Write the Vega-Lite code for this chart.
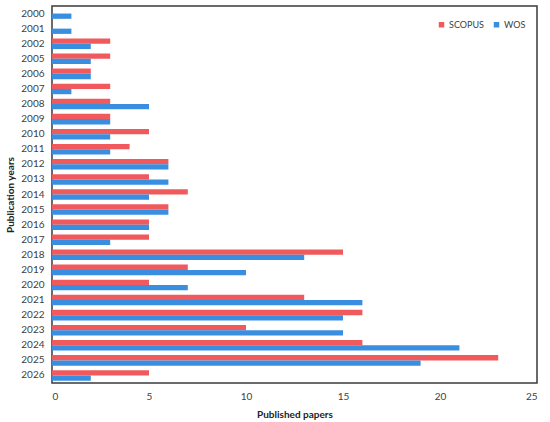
{
  "$schema": "https://vega.github.io/schema/vega-lite/v6.json",
  "autosize": {"type": "none"},
  "padding": {"left": 52, "top": 6, "right": 13, "bottom": 39},
  "width": 485,
  "height": 377,
  "data": {
    "values": [
      {"year": "2000", "source": "SCOPUS", "papers": 0}, {"year": "2000", "source": "WOS", "papers": 1},
      {"year": "2001", "source": "SCOPUS", "papers": 0}, {"year": "2001", "source": "WOS", "papers": 1},
      {"year": "2002", "source": "SCOPUS", "papers": 3}, {"year": "2002", "source": "WOS", "papers": 2},
      {"year": "2005", "source": "SCOPUS", "papers": 3}, {"year": "2005", "source": "WOS", "papers": 2},
      {"year": "2006", "source": "SCOPUS", "papers": 2}, {"year": "2006", "source": "WOS", "papers": 2},
      {"year": "2007", "source": "SCOPUS", "papers": 3}, {"year": "2007", "source": "WOS", "papers": 1},
      {"year": "2008", "source": "SCOPUS", "papers": 3}, {"year": "2008", "source": "WOS", "papers": 5},
      {"year": "2009", "source": "SCOPUS", "papers": 3}, {"year": "2009", "source": "WOS", "papers": 3},
      {"year": "2010", "source": "SCOPUS", "papers": 5}, {"year": "2010", "source": "WOS", "papers": 3},
      {"year": "2011", "source": "SCOPUS", "papers": 4}, {"year": "2011", "source": "WOS", "papers": 3},
      {"year": "2012", "source": "SCOPUS", "papers": 6}, {"year": "2012", "source": "WOS", "papers": 6},
      {"year": "2013", "source": "SCOPUS", "papers": 5}, {"year": "2013", "source": "WOS", "papers": 6},
      {"year": "2014", "source": "SCOPUS", "papers": 7}, {"year": "2014", "source": "WOS", "papers": 5},
      {"year": "2015", "source": "SCOPUS", "papers": 6}, {"year": "2015", "source": "WOS", "papers": 6},
      {"year": "2016", "source": "SCOPUS", "papers": 5}, {"year": "2016", "source": "WOS", "papers": 5},
      {"year": "2017", "source": "SCOPUS", "papers": 5}, {"year": "2017", "source": "WOS", "papers": 3},
      {"year": "2018", "source": "SCOPUS", "papers": 15}, {"year": "2018", "source": "WOS", "papers": 13},
      {"year": "2019", "source": "SCOPUS", "papers": 7}, {"year": "2019", "source": "WOS", "papers": 10},
      {"year": "2020", "source": "SCOPUS", "papers": 5}, {"year": "2020", "source": "WOS", "papers": 7},
      {"year": "2021", "source": "SCOPUS", "papers": 13}, {"year": "2021", "source": "WOS", "papers": 16},
      {"year": "2022", "source": "SCOPUS", "papers": 16}, {"year": "2022", "source": "WOS", "papers": 15},
      {"year": "2023", "source": "SCOPUS", "papers": 10}, {"year": "2023", "source": "WOS", "papers": 15},
      {"year": "2024", "source": "SCOPUS", "papers": 16}, {"year": "2024", "source": "WOS", "papers": 21},
      {"year": "2025", "source": "SCOPUS", "papers": 23}, {"year": "2025", "source": "WOS", "papers": 19},
      {"year": "2026", "source": "SCOPUS", "papers": 5}, {"year": "2026", "source": "WOS", "papers": 2}
    ]
  },
  "mark": {"type": "bar", "cornerRadius": 0},
  "encoding": {
    "y": {
      "field": "year",
      "type": "nominal",
      "sort": null,
      "scale": {"paddingInner": 0.3, "paddingOuter": 0.15},
      "axis": {
        "title": "Publication years",
        "titleFontWeight": "bold",
        "titleFontSize": 10,
        "titlePadding": 5,
        "labelFontSize": 10,
        "labelPadding": 8,
        "ticks": false,
        "domain": false
      }
    },
    "yOffset": {"field": "source", "type": "nominal", "sort": ["SCOPUS", "WOS"], "scale": {"paddingInner": 0}},
    "x": {
      "field": "papers",
      "type": "quantitative",
      "scale": {"domain": [0, 25]},
      "axis": {
        "title": "Published papers",
        "titleFontWeight": "bold",
        "titleFontSize": 10,
        "titlePadding": 8,
        "labelFontSize": 10,
        "labelPadding": 8,
        "values": [0, 5, 10, 15, 20, 25],
        "ticks": false,
        "domain": false,
        "grid": false
      }
    },
    "color": {
      "field": "source",
      "type": "nominal",
      "scale": {"domain": ["SCOPUS", "WOS"], "range": ["#f15a5c", "#3a8ee0"]},
      "legend": {
        "title": null,
        "orient": "none",
        "direction": "horizontal",
        "legendX": 385,
        "legendY": 14,
        "symbolType": "square",
        "symbolSize": 30,
        "symbolStrokeWidth": 0,
        "labelFontSize": 9,
        "columnPadding": 8,
        "labelOffset": 3
      }
    }
  },
  "config": {
    "font": "Lato",
    "view": {"stroke": "#3a3a3a", "strokeWidth": 1.5},
    "axis": {"labelColor": "#404040", "titleColor": "#222222"},
    "legend": {"labelColor": "#404040"}
  }
}
